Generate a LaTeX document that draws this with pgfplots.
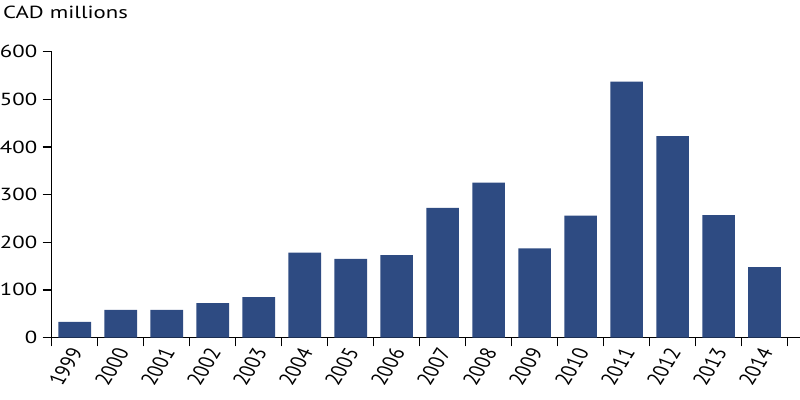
\documentclass[border=0pt]{standalone}
\usepackage{fontspec}
\setmainfont[FakeStretch=1.3]{PT Sans}
\newfontfamily\plainfont{PT Sans}
\usepackage{pgfplots}
\pgfplotsset{compat=1.18}
\definecolor{barblue}{RGB}{46,75,130}

\begin{document}
\begin{tikzpicture}
\begin{axis}[
  name=ax,
  scale only axis,
  width=748.3bp, height=285.8bp,
  xmin=-0.5, xmax=15.77,
  ymin=0, ymax=600,
  axis x line*=bottom,
  axis y line*=left,
  axis line style={-, black, line width=1.3bp},
  tick align=outside,
  major tick length=9bp,
  tick style={black, line width=1.3bp},
  ytick={0,100,...,600},
  yticklabel style={xshift=-2bp, font=\fontsize{17.5bp}{20bp}\selectfont},
  xtick={-0.5,0.5,...,15.5},
  xticklabels={},
  extra x ticks={0,...,15},
  extra x tick labels={1999,2000,2001,2002,2003,2004,2005,2006,2007,2008,2009,2010,2011,2012,2013,2014},
  extra x tick style={major tick length=0pt},
  xticklabel style={xshift=4bp, yshift=-9bp, xscale=1.3, rotate=64, anchor=east,
    font=\plainfont\fontsize{17.5bp}{20bp}\selectfont},
  /pgf/number format/assume math mode=true,
  ybar, bar width=32.7bp,
]
\addplot[fill=barblue, draw=none] coordinates {
  (0,33) (1,58) (2,58) (3,72) (4,85) (5,178) (6,165) (7,173)
  (8,272) (9,325) (10,187) (11,256) (12,537) (13,423) (14,257) (15,148)
};
\end{axis}
\node[anchor=base west, inner sep=0pt, font=\fontsize{17.5bp}{20bp}\selectfont]
  at ([xshift=-48.7bp, yshift=33.4bp]ax.north west) {CAD millions};
\pgfresetboundingbox
\path ([xshift=-51.7bp, yshift=-62.5bp]ax.south west) rectangle ([yshift=51.7bp]ax.north east);
\end{tikzpicture}
\end{document}
